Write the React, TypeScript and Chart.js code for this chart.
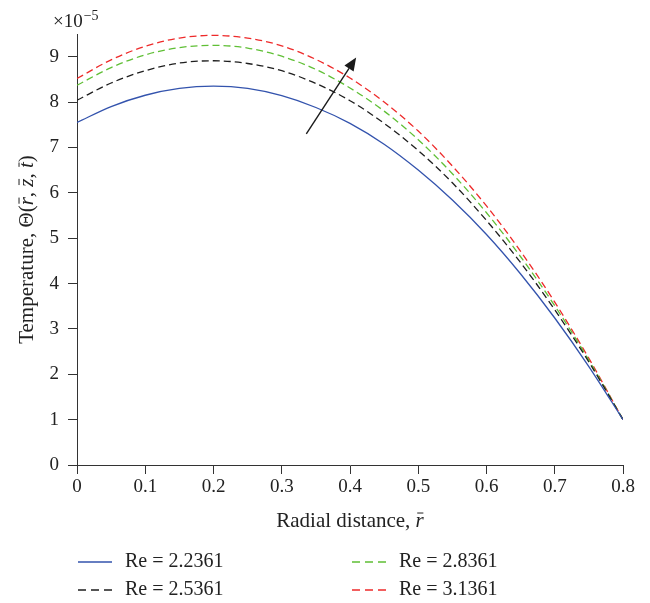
import { useEffect, useRef } from 'react';
import { Chart, registerables } from 'chart.js';

Chart.register(...registerables);

const FONT = '"Liberation Serif", "Times New Roman", serif';

// radial distance r̄
const R = [0, 0.05, 0.1, 0.15, 0.2, 0.25, 0.3, 0.35, 0.4, 0.45, 0.5, 0.55, 0.6, 0.65, 0.7, 0.75, 0.8];

// Temperature (×10^-5)
const RE_22361 = [7.55, 7.9, 8.15, 8.3, 8.35, 8.3, 8.14, 7.88, 7.53, 7.07, 6.5, 5.84, 5.08, 4.21, 3.24, 2.17, 1.0];
const RE_25361 = [8.04, 8.42, 8.69, 8.86, 8.91, 8.85, 8.69, 8.41, 8.03, 7.53, 6.93, 6.22, 5.39, 4.46, 3.42, 2.27, 1.0];
const RE_28361 = [8.37, 8.76, 9.04, 9.2, 9.25, 9.19, 9.01, 8.72, 8.31, 7.8, 7.17, 6.42, 5.56, 4.59, 3.51, 2.31, 1.0];
const RE_31361 = [8.52, 8.93, 9.23, 9.41, 9.47, 9.41, 9.24, 8.94, 8.53, 8.0, 7.36, 6.59, 5.71, 4.71, 3.59, 2.35, 1.0];

const LABELS = ['Re = 2.2361', 'Re = 2.5361', 'Re = 2.8361', 'Re = 3.1361'];
const COLORS = ['#3353ad', '#1e1e1e', '#5fbf35', '#ee2a2a'];
const DASHES: number[][] = [[], [7, 4], [7, 4], [7, 4]];

// arrow annotation (data coordinates: r̄, Θ)
const ARROW_FROM = [0.336, 7.3];
const ARROW_TO = [0.409, 8.98];

type Seg = { t: string; i?: boolean; bar?: boolean };
const X_TITLE: Seg[] = [{ t: 'Radial distance, ' }, { t: 'r', i: true, bar: true }];
const Y_TITLE: Seg[] = [
  { t: 'Temperature, Θ(' },
  { t: 'r', i: true, bar: true },
  { t: ', ' },
  { t: 'z', i: true, bar: true },
  { t: ', ' },
  { t: 't', i: true, bar: true },
  { t: ')' },
];

function drawSegs(ctx: CanvasRenderingContext2D, segs: Seg[], cx: number, cy: number, size: number) {
  const fontOf = (s: Seg) => `${s.i ? 'italic ' : ''}${size}px ${FONT}`;
  let total = 0;
  for (const s of segs) {
    ctx.font = fontOf(s);
    total += ctx.measureText(s.t).width;
  }
  let x = cx - total / 2;
  ctx.textBaseline = 'middle';
  ctx.textAlign = 'left';
  ctx.fillStyle = '#222';
  for (const s of segs) {
    ctx.font = fontOf(s);
    const w = ctx.measureText(s.t).width;
    ctx.fillText(s.t, x, cy);
    if (s.bar) {
      ctx.save();
      ctx.strokeStyle = '#222';
      ctx.lineWidth = 1;
      ctx.beginPath();
      const by = cy - size * 0.38;
      ctx.moveTo(x + w * 0.2, by);
      ctx.lineTo(x + w * 0.95, by);
      ctx.stroke();
      ctx.restore();
    }
    x += w;
  }
}

const decor = {
  id: 'decor',
  afterDraw(chart: any) {
    const ctx: CanvasRenderingContext2D = chart.ctx;
    const { left, right, top, bottom } = chart.chartArea;
    const xs = chart.scales.x;
    const ys = chart.scales.y;

    // arrow
    const x1 = xs.getPixelForValue(ARROW_FROM[0]);
    const y1 = ys.getPixelForValue(ARROW_FROM[1]);
    const x2 = xs.getPixelForValue(ARROW_TO[0]);
    const y2 = ys.getPixelForValue(ARROW_TO[1]);
    const ang = Math.atan2(y2 - y1, x2 - x1);
    const hl = 13, hw = 5.5;
    const bx = x2 - hl * Math.cos(ang);
    const by = y2 - hl * Math.sin(ang);
    ctx.save();
    ctx.strokeStyle = '#1a1a1a';
    ctx.fillStyle = '#1a1a1a';
    ctx.lineWidth = 1.4;
    ctx.beginPath();
    ctx.moveTo(x1, y1);
    ctx.lineTo(bx, by);
    ctx.stroke();
    ctx.beginPath();
    ctx.moveTo(x2, y2);
    ctx.lineTo(bx + hw * Math.sin(ang), by - hw * Math.cos(ang));
    ctx.lineTo(bx - hw * Math.sin(ang), by + hw * Math.cos(ang));
    ctx.closePath();
    ctx.fill();
    ctx.restore();

    // axis titles
    ctx.save();
    drawSegs(ctx, X_TITLE, (left + right) / 2, 521, 21);
    ctx.translate(27, (top + bottom) / 2);
    ctx.rotate(-Math.PI / 2);
    drawSegs(ctx, Y_TITLE, 0, 0, 21);
    ctx.restore();

    // exponent
    ctx.save();
    ctx.fillStyle = '#222';
    ctx.textBaseline = 'alphabetic';
    ctx.textAlign = 'left';
    ctx.font = `19px ${FONT}`;
    ctx.fillText('×10', 53, 27);
    const w = ctx.measureText('×10').width;
    ctx.font = `14px ${FONT}`;
    ctx.fillText('−5', 53 + w + 1, 20);
    ctx.restore();

    // legend
    const cols = [78, 352];
    const rows = [562, 590];
    const order = [
      [0, 0, 0],
      [1, 0, 1],
      [2, 1, 0],
      [3, 1, 1],
    ];
    ctx.save();
    for (const [idx, c, r] of order) {
      const x = cols[c];
      const y = rows[r];
      ctx.strokeStyle = COLORS[idx];
      ctx.lineWidth = 1.3;
      ctx.setLineDash(DASHES[idx].length ? [8, 5] : []);
      ctx.beginPath();
      ctx.moveTo(x, y);
      ctx.lineTo(x + 34, y);
      ctx.stroke();
      ctx.setLineDash([]);
      ctx.fillStyle = '#222';
      ctx.font = `20px ${FONT}`;
      ctx.textBaseline = 'middle';
      ctx.textAlign = 'left';
      ctx.fillText(LABELS[idx], x + 47, y);
    }
    ctx.restore();
  },
};

export default function App() {
  const ref = useRef<HTMLCanvasElement | null>(null);

  useEffect(() => {
    if (!ref.current) return;
    const series = [RE_22361, RE_25361, RE_28361, RE_31361];
    const chart = new Chart(ref.current, {
      type: 'line',
      data: {
        datasets: series.map((vals, i) => ({
          label: LABELS[i],
          data: vals.map((v, k) => ({ x: R[k], y: v })),
          borderColor: COLORS[i],
          backgroundColor: COLORS[i],
          borderWidth: 1.3,
          borderDash: DASHES[i],
          pointRadius: 0,
          cubicInterpolationMode: 'monotone' as const,
          fill: false,
        })),
      },
      options: {
        animation: false,
        responsive: false,
        layout: { padding: { top: 34, right: 27, bottom: 73, left: 0 } },
        plugins: { legend: { display: false }, tooltip: { enabled: false } },
        scales: {
          x: {
            type: 'linear',
            min: 0,
            max: 0.8,
            ticks: {
              stepSize: 0.1,
              color: '#222',
              font: { family: FONT, size: 19 },
              padding: 2,
              maxRotation: 0,
              callback: (v: any) => (Math.abs(v) < 1e-9 ? '0' : Number(v).toFixed(1)),
            },
            grid: { drawOnChartArea: false, drawTicks: true, tickLength: 9, color: '#333' },
            border: { display: true, color: '#333', width: 1 },
            afterFit: (s: any) => {
              s.height = 65;
            },
          },
          y: {
            min: 0,
            max: 9.5,
            afterBuildTicks: (s: any) => {
              s.ticks = s.ticks.filter((t: any) => Number.isInteger(t.value));
            },
            ticks: {
              stepSize: 1,
              color: '#222',
              font: { family: FONT, size: 19 },
              padding: 9,
              callback: (v: any) => String(v),
            },
            grid: { drawOnChartArea: false, drawTicks: true, tickLength: 9, color: '#333' },
            border: { display: true, color: '#333', width: 1 },
            afterFit: (s: any) => {
              s.width = 77;
            },
          },
        },
      },
      plugins: [decor],
    });
    return () => chart.destroy();
  }, []);

  return (
    <div style={{ position: 'absolute', left: 0, top: 0, width: 650, height: 603, background: '#fff' }}>
      <canvas ref={ref} width={650} height={603} />
    </div>
  );
}
